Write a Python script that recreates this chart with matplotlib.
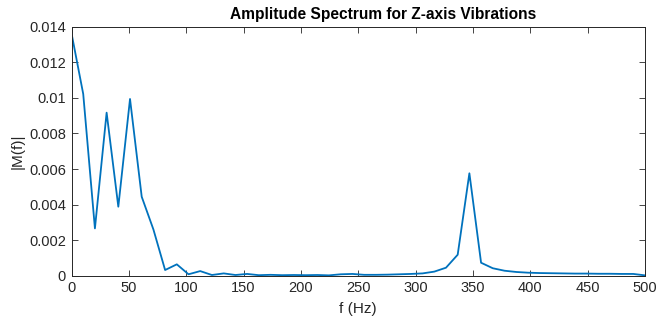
import numpy as np
import matplotlib
matplotlib.use('Agg')
import matplotlib.pyplot as plt

plt.rcParams['font.family'] = ['Liberation Sans', 'DejaVu Sans']

# frequency bins (Hz) and amplitude
freq = [0.0, 10.2, 20.4, 30.6, 40.8, 51.0, 61.2, 71.4, 81.6, 91.8,
        102.0, 112.2, 122.4, 132.7, 142.9, 153.1, 163.3, 173.5, 183.7, 193.9,
        204.1, 214.3, 224.5, 234.7, 244.9, 255.1, 265.3, 275.5, 285.7, 295.9,
        306.1, 316.3, 326.5, 336.7, 346.9, 357.1, 367.3, 377.6, 387.8, 398.0,
        408.2, 418.4, 428.6, 438.8, 449.0, 459.2, 469.4, 479.6, 489.8, 500.0]
amp = [0.01363, 0.01022, 0.00266, 0.00917, 0.00388, 0.00994, 0.00444, 0.0026, 0.00032, 0.00064,
       0.00008, 0.00026, 0.00004, 0.00013, 0.00004, 0.0001, 0.00003, 0.00005, 0.00003, 0.00004,
       0.00003, 0.00004, 0.00002, 0.00008, 0.0001, 0.00005, 0.00005, 0.00006, 0.00008, 0.0001,
       0.00013, 0.00023, 0.00045, 0.00118, 0.00576, 0.00073, 0.00042, 0.00028, 0.00021, 0.00017,
       0.00015, 0.00014, 0.00013, 0.00012, 0.00012, 0.00011, 0.00011, 0.0001, 0.0001, 0.00002]

xticks = [0, 50, 100, 150, 200, 250, 300, 350, 400, 450, 500]
yticks = [0, 0.002, 0.004, 0.006, 0.008, 0.01, 0.012, 0.014]
ytick_labels = ['0', '0.002', '0.004', '0.006', '0.008', '0.01', '0.012', '0.014']

fig = plt.figure(figsize=(6.58, 3.2), dpi=100)
ax = fig.add_axes([0.1087, 0.1384, 0.8715, 0.778])

ax.plot(freq, amp, color='#0072BD', lw=1.3)

ax.set_xlim(0, 500)
ax.set_ylim(0, 0.014)
ax.set_xticks(xticks)
ax.set_yticks(yticks)
ax.set_yticklabels(ytick_labels)

ax.tick_params(direction='in', top=True, right=True, length=4, width=0.6,
               colors='#262626', labelsize=10.5, labelcolor='#262626', pad=4)
for s in ax.spines.values():
    s.set_color('#262626')
    s.set_linewidth(0.7)

# title sits a little right of the axes centre in the original
fig.text(383 / 658, 1 - 14 / 320, 'Amplitude Spectrum for Z-axis Vibrations',
         fontsize=11.2, fontweight='bold', ha='center', va='center')
ax.set_xlabel('f (Hz)', fontsize=11, color='#262626', labelpad=5)
ax.set_ylabel('|M(f)|', fontsize=11, color='#262626', labelpad=3)

fig.savefig('out.png', dpi=100)
